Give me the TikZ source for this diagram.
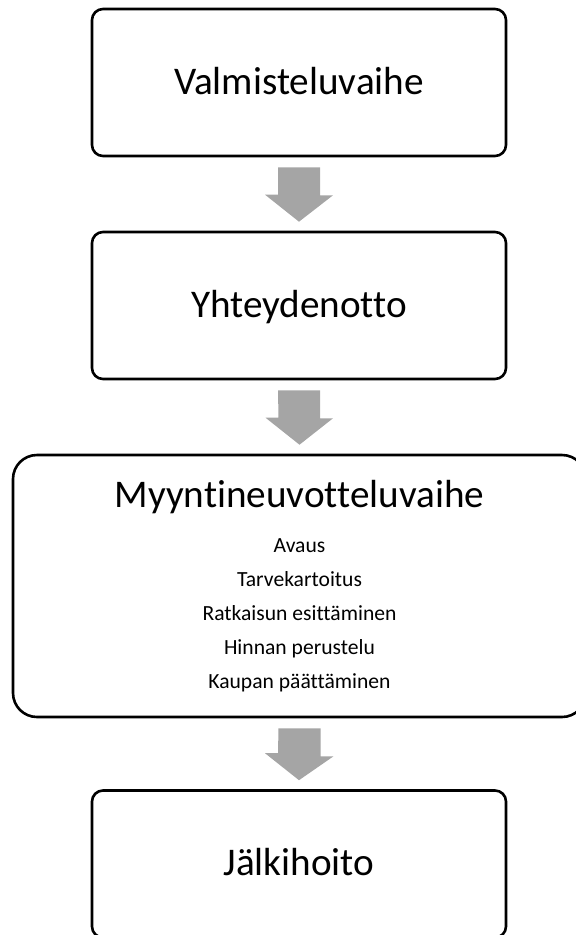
\documentclass[tikz,border=0pt]{standalone}
\usepackage{fontspec}
\setmainfont{Carlito}[Ligatures=NoCommon]
\definecolor{arrowgray}{RGB}{165,165,165}

\begin{document}
\begin{tikzpicture}[
x=1pt, y=1pt,
every node/.style={
draw,
rounded corners=11pt,
line width=2.6pt,
align=center,
minimum width=414pt,
minimum height=147pt,
font=\fontsize{39.2}{46}\selectfont
},
oneline/.style={
text height=27pt,
text depth=4pt
},
bigarrow/.style={
fill=arrowgray
}
]

\useasboundingbox (0,0) rectangle (576,-935);

\node[oneline] (V) at (299,-82.5)
{Valmisteluvaihe};

\node[oneline] (Y) at (299,-305.5)
{Yhteydenotto};

\node[rounded corners=24pt, minimum width=573pt, minimum height=262pt,
font=\fontsize{21.6}{34}\selectfont] (M) at (299.5,-586)
{{\fontsize{39.2}{46}\selectfont Myyntineuvotteluvaihe}\\[11.5pt]
Avaus\\
Tarvekartoitus\\
Ratkaisun esittäminen\\
Hinnan perustelu\\
Kaupan päättäminen};

\node[oneline] (J) at (299,-864)
{Jälkihoito};

% block arrows between the phases
\fill[bigarrow] ([xshift=-21pt,yshift=-10pt]V.south) -- ++(42,0) -- ++(0,-28)
  -- ++(13,0) -- ([yshift=9pt]Y.north) -- ++(-34,27) -- ++(13,0) -- cycle;
\fill[bigarrow] ([xshift=-21pt,yshift=-10pt]Y.south) -- ++(42,0) -- ++(0,-28)
  -- ++(13,0) -- ([yshift=9pt]M.north) -- ++(-34,27) -- ++(13,0) -- cycle;
\fill[bigarrow] ([xshift=-21pt,yshift=-10pt]M.south) -- ++(42,0) -- ++(0,-28)
  -- ++(13,0) -- ([yshift=9pt]J.north) -- ++(-34,27) -- ++(13,0) -- cycle;

\end{tikzpicture}
\end{document}
